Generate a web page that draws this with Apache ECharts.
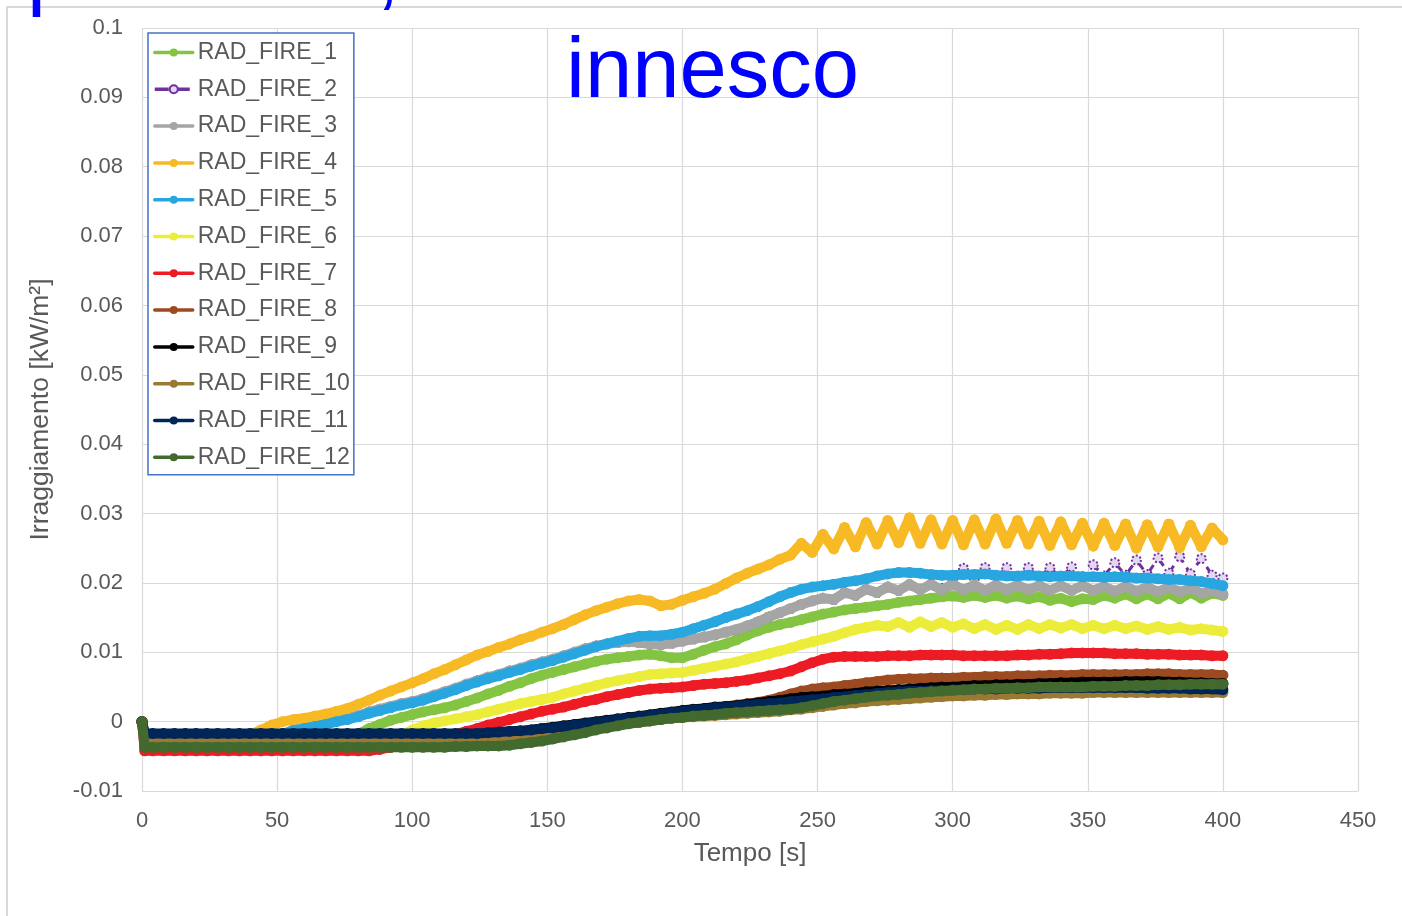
<!DOCTYPE html>
<html>
<head>
<meta charset="utf-8">
<script src="https://cdn.jsdelivr.net/npm/echarts@6/dist/echarts.min.js"></script>
<style>
html,body{margin:0;padding:0;background:#fff;}
#chart{width:1402px;height:916px;}
</style>
</head>
<body>
<div id="chart"></div>
<script>
// Time samples [s]
const time = [0, 1,
  4, 8, 12, 16, 20, 24, 28, 32, 36, 40,
  44, 48, 52, 56, 60, 64, 68, 72, 76, 80,
  84, 88, 92, 96, 100, 104, 108, 112, 116, 120,
  124, 128, 132, 136, 140, 144, 148, 152, 156, 160,
  164, 168, 172, 176, 180, 184, 188, 192, 196, 200,
  204, 208, 212, 216, 220, 224, 228, 232, 236, 240,
  244, 248, 252, 256, 260, 264, 268, 272, 276, 280,
  284, 288, 292, 296, 300, 304, 308, 312, 316, 320,
  324, 328, 332, 336, 340, 344, 348, 352, 356, 360,
  364, 368, 372, 376, 380, 384, 388, 392, 396, 400];

const seriesNames = ['RAD_FIRE_1','RAD_FIRE_2','RAD_FIRE_3','RAD_FIRE_4','RAD_FIRE_5','RAD_FIRE_6',
  'RAD_FIRE_7','RAD_FIRE_8','RAD_FIRE_9','RAD_FIRE_10','RAD_FIRE_11','RAD_FIRE_12'];

const radFire1 = [0, -0.0018,
  -0.0018, -0.0018, -0.0018, -0.0018, -0.0018, -0.0018, -0.0018, -0.0018, -0.0018, -0.0018,
  -0.0018, -0.0018, -0.0018, -0.0018, -0.0018, -0.0018, -0.0018, -0.0018, -0.0018, -0.0018,
  -0.0010, -0.0004, 0.0002, 0.0006, 0.0010, 0.0014, 0.0017, 0.0020, 0.0024, 0.0029,
  0.0034, 0.0040, 0.0045, 0.0051, 0.0056, 0.0062, 0.0067, 0.0071, 0.0075, 0.0079,
  0.0083, 0.0087, 0.0090, 0.0092, 0.0094, 0.0096, 0.0097, 0.0095, 0.0092, 0.0092,
  0.0097, 0.0103, 0.0108, 0.0112, 0.0118, 0.0125, 0.0131, 0.0136, 0.0140, 0.0143,
  0.0147, 0.0151, 0.0155, 0.0158, 0.0161, 0.0163, 0.0165, 0.0167, 0.0169, 0.0172,
  0.0174, 0.0176, 0.0178, 0.0180, 0.0181, 0.0179, 0.0182, 0.0179, 0.0182, 0.0178,
  0.0181, 0.0177, 0.0180, 0.0175, 0.0178, 0.0173, 0.0177, 0.0176, 0.0182, 0.0178,
  0.0184, 0.0177, 0.0184, 0.0177, 0.0185, 0.0177, 0.0186, 0.0178, 0.0185, 0.0182];

const radFire2 = [0, -0.0018,
  -0.0018, -0.0018, -0.0018, -0.0018, -0.0018, -0.0018, -0.0018, -0.0018, -0.0018, -0.0018,
  -0.0018, -0.0018, -0.0018, -0.0012, -0.0008, -0.0005, -0.0002, 0.0002, 0.0005, 0.0009,
  0.0014, 0.0018, 0.0022, 0.0026, 0.0029, 0.0033, 0.0038, 0.0043, 0.0048, 0.0054,
  0.0059, 0.0064, 0.0068, 0.0073, 0.0077, 0.0082, 0.0086, 0.0090, 0.0095, 0.0100,
  0.0105, 0.0109, 0.0112, 0.0114, 0.0115, 0.0114, 0.0112, 0.0111, 0.0113, 0.0116,
  0.0119, 0.0122, 0.0125, 0.0129, 0.0133, 0.0138, 0.0144, 0.0151, 0.0157, 0.0163,
  0.0169, 0.0174, 0.0178, 0.0176, 0.0186, 0.0182, 0.0191, 0.0186, 0.0194, 0.0189,
  0.0196, 0.0191, 0.0197, 0.0192, 0.0206, 0.0221, 0.0206, 0.0222, 0.0207, 0.0222,
  0.0207, 0.0222, 0.0208, 0.0222, 0.0208, 0.0223, 0.0209, 0.0226, 0.0210, 0.0229,
  0.0211, 0.0233, 0.0212, 0.0236, 0.0214, 0.0238, 0.0213, 0.0235, 0.0211, 0.0207];

const radFire3 = [0, -0.0018,
  -0.0018, -0.0018, -0.0018, -0.0018, -0.0018, -0.0018, -0.0018, -0.0018, -0.0018, -0.0018,
  -0.0018, -0.0018, -0.0018, -0.0012, -0.0008, -0.0005, -0.0002, 0.0002, 0.0005, 0.0009,
  0.0014, 0.0018, 0.0022, 0.0026, 0.0029, 0.0033, 0.0038, 0.0043, 0.0048, 0.0054,
  0.0059, 0.0064, 0.0068, 0.0073, 0.0077, 0.0082, 0.0086, 0.0090, 0.0095, 0.0100,
  0.0105, 0.0109, 0.0112, 0.0114, 0.0115, 0.0114, 0.0112, 0.0111, 0.0113, 0.0116,
  0.0119, 0.0122, 0.0125, 0.0129, 0.0133, 0.0138, 0.0144, 0.0151, 0.0157, 0.0163,
  0.0169, 0.0174, 0.0178, 0.0176, 0.0186, 0.0182, 0.0191, 0.0186, 0.0194, 0.0189,
  0.0198, 0.0190, 0.0198, 0.0190, 0.0198, 0.0190, 0.0197, 0.0189, 0.0197, 0.0190,
  0.0197, 0.0190, 0.0196, 0.0189, 0.0196, 0.0189, 0.0196, 0.0189, 0.0195, 0.0188,
  0.0195, 0.0188, 0.0194, 0.0187, 0.0194, 0.0187, 0.0192, 0.0185, 0.0189, 0.0184];

const radFire4 = [0, -0.0019,
  -0.0019, -0.0019, -0.0019, -0.0019, -0.0019, -0.0019, -0.0019, -0.0019, -0.0019, -0.0019,
  -0.0012, -0.0005, 0.0000, 0.0003, 0.0005, 0.0008, 0.0011, 0.0015, 0.0019, 0.0025,
  0.0031, 0.0038, 0.0044, 0.0050, 0.0056, 0.0062, 0.0069, 0.0075, 0.0082, 0.0089,
  0.0096, 0.0101, 0.0107, 0.0112, 0.0118, 0.0123, 0.0129, 0.0134, 0.0140, 0.0147,
  0.0154, 0.0160, 0.0165, 0.0170, 0.0174, 0.0176, 0.0174, 0.0167, 0.0169, 0.0175,
  0.0180, 0.0185, 0.0191, 0.0199, 0.0207, 0.0214, 0.0220, 0.0226, 0.0234, 0.0240,
  0.0257, 0.0244, 0.0270, 0.0249, 0.0280, 0.0252, 0.0287, 0.0256, 0.0290, 0.0258,
  0.0294, 0.0257, 0.0291, 0.0256, 0.0290, 0.0255, 0.0291, 0.0256, 0.0292, 0.0257,
  0.0290, 0.0256, 0.0289, 0.0254, 0.0288, 0.0255, 0.0286, 0.0253, 0.0286, 0.0254,
  0.0285, 0.0250, 0.0284, 0.0252, 0.0285, 0.0251, 0.0283, 0.0252, 0.0279, 0.0262];

const radFire5 = [0, -0.0018,
  -0.0018, -0.0018, -0.0018, -0.0018, -0.0018, -0.0018, -0.0018, -0.0018, -0.0018, -0.0018,
  -0.0018, -0.0018, -0.0018, -0.0013, -0.0010, -0.0007, -0.0004, 0.0000, 0.0003, 0.0007,
  0.0012, 0.0016, 0.0020, 0.0024, 0.0027, 0.0031, 0.0036, 0.0041, 0.0046, 0.0052,
  0.0057, 0.0062, 0.0066, 0.0071, 0.0075, 0.0080, 0.0084, 0.0088, 0.0093, 0.0098,
  0.0103, 0.0108, 0.0112, 0.0116, 0.0120, 0.0123, 0.0124, 0.0124, 0.0126, 0.0129,
  0.0134, 0.0139, 0.0144, 0.0150, 0.0155, 0.0160, 0.0166, 0.0173, 0.0180, 0.0186,
  0.0191, 0.0194, 0.0196, 0.0198, 0.0201, 0.0203, 0.0206, 0.0210, 0.0213, 0.0215,
  0.0215, 0.0214, 0.0212, 0.0211, 0.0211, 0.0212, 0.0212, 0.0213, 0.0211, 0.0210,
  0.0210, 0.0211, 0.0210, 0.0209, 0.0210, 0.0210, 0.0209, 0.0209, 0.0208, 0.0209,
  0.0208, 0.0207, 0.0207, 0.0206, 0.0205, 0.0205, 0.0203, 0.0202, 0.0199, 0.0196];

const radFire6 = [0, -0.0020,
  -0.0020, -0.0020, -0.0020, -0.0020, -0.0020, -0.0020, -0.0020, -0.0020, -0.0020, -0.0020,
  -0.0020, -0.0020, -0.0020, -0.0020, -0.0020, -0.0020, -0.0020, -0.0020, -0.0020, -0.0020,
  -0.0020, -0.0020, -0.0020, -0.0020, -0.0012, -0.0006, -0.0002, 0.0001, 0.0004, 0.0007,
  0.0010, 0.0014, 0.0018, 0.0022, 0.0026, 0.0029, 0.0032, 0.0035, 0.0040, 0.0044,
  0.0048, 0.0052, 0.0056, 0.0059, 0.0062, 0.0065, 0.0068, 0.0069, 0.0070, 0.0071,
  0.0074, 0.0077, 0.0080, 0.0083, 0.0086, 0.0090, 0.0094, 0.0098, 0.0102, 0.0106,
  0.0111, 0.0115, 0.0119, 0.0123, 0.0128, 0.0133, 0.0136, 0.0139, 0.0137, 0.0143,
  0.0136, 0.0144, 0.0137, 0.0143, 0.0136, 0.0141, 0.0134, 0.0140, 0.0133, 0.0139,
  0.0133, 0.0140, 0.0134, 0.0140, 0.0135, 0.0140, 0.0134, 0.0139, 0.0134, 0.0139,
  0.0134, 0.0138, 0.0133, 0.0137, 0.0133, 0.0136, 0.0132, 0.0134, 0.0132, 0.0130];

const radFire7 = [0, -0.0042,
  -0.0042, -0.0042, -0.0042, -0.0042, -0.0042, -0.0042, -0.0042, -0.0042, -0.0042, -0.0042,
  -0.0042, -0.0042, -0.0042, -0.0042, -0.0042, -0.0042, -0.0042, -0.0042, -0.0042, -0.0042,
  -0.0042, -0.0040, -0.0037, -0.0034, -0.0031, -0.0028, -0.0025, -0.0022, -0.0018, -0.0014,
  -0.0010, -0.0005, -0.0001, 0.0003, 0.0007, 0.0011, 0.0015, 0.0018, 0.0021, 0.0025,
  0.0029, 0.0032, 0.0036, 0.0039, 0.0042, 0.0045, 0.0047, 0.0048, 0.0049, 0.0050,
  0.0052, 0.0054, 0.0055, 0.0056, 0.0058, 0.0060, 0.0063, 0.0066, 0.0069, 0.0073,
  0.0079, 0.0085, 0.0090, 0.0093, 0.0094, 0.0094, 0.0094, 0.0094, 0.0095, 0.0095,
  0.0095, 0.0096, 0.0096, 0.0096, 0.0096, 0.0095, 0.0095, 0.0095, 0.0095, 0.0095,
  0.0096, 0.0096, 0.0097, 0.0097, 0.0098, 0.0099, 0.0099, 0.0099, 0.0099, 0.0098,
  0.0098, 0.0098, 0.0097, 0.0097, 0.0097, 0.0096, 0.0096, 0.0096, 0.0095, 0.0095];

const radFire8 = [0, -0.0026,
  -0.0026, -0.0026, -0.0026, -0.0026, -0.0026, -0.0026, -0.0026, -0.0026, -0.0026, -0.0026,
  -0.0026, -0.0026, -0.0026, -0.0026, -0.0026, -0.0026, -0.0026, -0.0026, -0.0026, -0.0026,
  -0.0026, -0.0026, -0.0026, -0.0026, -0.0026, -0.0026, -0.0026, -0.0026, -0.0026, -0.0026,
  -0.0026, -0.0025, -0.0024, -0.0022, -0.0020, -0.0018, -0.0016, -0.0013, -0.0010, -0.0008,
  -0.0005, -0.0003, 0.0000, 0.0002, 0.0004, 0.0006, 0.0008, 0.0010, 0.0012, 0.0014,
  0.0016, 0.0018, 0.0020, 0.0022, 0.0024, 0.0026, 0.0028, 0.0031, 0.0035, 0.0040,
  0.0044, 0.0047, 0.0049, 0.0050, 0.0052, 0.0054, 0.0056, 0.0058, 0.0060, 0.0061,
  0.0062, 0.0062, 0.0063, 0.0063, 0.0063, 0.0064, 0.0064, 0.0065, 0.0065, 0.0065,
  0.0066, 0.0066, 0.0066, 0.0067, 0.0067, 0.0067, 0.0068, 0.0068, 0.0068, 0.0068,
  0.0068, 0.0068, 0.0069, 0.0069, 0.0069, 0.0068, 0.0068, 0.0068, 0.0068, 0.0067];

const radFire9 = [0, -0.0021,
  -0.0021, -0.0021, -0.0021, -0.0021, -0.0021, -0.0021, -0.0021, -0.0021, -0.0021, -0.0021,
  -0.0021, -0.0021, -0.0021, -0.0021, -0.0021, -0.0021, -0.0021, -0.0021, -0.0021, -0.0021,
  -0.0021, -0.0021, -0.0021, -0.0021, -0.0021, -0.0021, -0.0021, -0.0021, -0.0021, -0.0021,
  -0.0021, -0.0020, -0.0018, -0.0016, -0.0014, -0.0012, -0.0010, -0.0008, -0.0006, -0.0004,
  -0.0002, 0.0000, 0.0002, 0.0004, 0.0006, 0.0008, 0.0010, 0.0012, 0.0014, 0.0016,
  0.0018, 0.0019, 0.0021, 0.0022, 0.0023, 0.0025, 0.0027, 0.0029, 0.0031, 0.0033,
  0.0035, 0.0036, 0.0037, 0.0039, 0.0040, 0.0041, 0.0043, 0.0044, 0.0045, 0.0046,
  0.0047, 0.0048, 0.0049, 0.0050, 0.0050, 0.0051, 0.0052, 0.0052, 0.0053, 0.0053,
  0.0054, 0.0054, 0.0055, 0.0055, 0.0056, 0.0056, 0.0057, 0.0057, 0.0057, 0.0057,
  0.0058, 0.0058, 0.0058, 0.0058, 0.0057, 0.0057, 0.0056, 0.0056, 0.0055, 0.0055];

const radFire10 = [0, -0.0028,
  -0.0028, -0.0028, -0.0028, -0.0028, -0.0028, -0.0028, -0.0028, -0.0028, -0.0028, -0.0028,
  -0.0028, -0.0028, -0.0028, -0.0028, -0.0028, -0.0028, -0.0028, -0.0028, -0.0028, -0.0028,
  -0.0028, -0.0028, -0.0028, -0.0028, -0.0028, -0.0028, -0.0028, -0.0028, -0.0028, -0.0028,
  -0.0028, -0.0027, -0.0026, -0.0025, -0.0024, -0.0022, -0.0020, -0.0018, -0.0015, -0.0013,
  -0.0011, -0.0009, -0.0007, -0.0005, -0.0003, -0.0001, 0.0001, 0.0003, 0.0005, 0.0006,
  0.0007, 0.0008, 0.0009, 0.0010, 0.0011, 0.0012, 0.0013, 0.0014, 0.0015, 0.0017,
  0.0018, 0.0020, 0.0022, 0.0024, 0.0026, 0.0027, 0.0029, 0.0030, 0.0031, 0.0032,
  0.0033, 0.0034, 0.0035, 0.0036, 0.0037, 0.0037, 0.0038, 0.0038, 0.0039, 0.0039,
  0.0040, 0.0040, 0.0040, 0.0041, 0.0041, 0.0041, 0.0041, 0.0042, 0.0042, 0.0042,
  0.0042, 0.0042, 0.0042, 0.0042, 0.0042, 0.0042, 0.0042, 0.0042, 0.0042, 0.0042];

const radFire11 = [0, -0.0017,
  -0.0017, -0.0017, -0.0017, -0.0017, -0.0017, -0.0017, -0.0017, -0.0017, -0.0017, -0.0017,
  -0.0017, -0.0017, -0.0017, -0.0017, -0.0017, -0.0017, -0.0017, -0.0017, -0.0017, -0.0017,
  -0.0017, -0.0017, -0.0017, -0.0017, -0.0017, -0.0017, -0.0017, -0.0017, -0.0017, -0.0017,
  -0.0017, -0.0016, -0.0015, -0.0014, -0.0013, -0.0012, -0.0010, -0.0009, -0.0007, -0.0005,
  -0.0003, -0.0001, 0.0001, 0.0003, 0.0005, 0.0007, 0.0009, 0.0011, 0.0013, 0.0015,
  0.0017, 0.0018, 0.0020, 0.0021, 0.0022, 0.0024, 0.0025, 0.0026, 0.0027, 0.0029,
  0.0030, 0.0032, 0.0033, 0.0035, 0.0036, 0.0038, 0.0039, 0.0041, 0.0042, 0.0043,
  0.0044, 0.0044, 0.0045, 0.0045, 0.0046, 0.0046, 0.0047, 0.0047, 0.0047, 0.0048,
  0.0048, 0.0048, 0.0048, 0.0049, 0.0049, 0.0049, 0.0049, 0.0049, 0.0049, 0.0049,
  0.0049, 0.0049, 0.0048, 0.0048, 0.0048, 0.0048, 0.0047, 0.0047, 0.0047, 0.0046];

const radFire12 = [0, -0.0037,
  -0.0037, -0.0037, -0.0037, -0.0037, -0.0037, -0.0037, -0.0037, -0.0037, -0.0037, -0.0037,
  -0.0037, -0.0037, -0.0037, -0.0037, -0.0037, -0.0037, -0.0037, -0.0037, -0.0037, -0.0037,
  -0.0037, -0.0037, -0.0037, -0.0037, -0.0037, -0.0037, -0.0037, -0.0037, -0.0036, -0.0036,
  -0.0035, -0.0035, -0.0035, -0.0034, -0.0032, -0.0030, -0.0028, -0.0025, -0.0022, -0.0019,
  -0.0016, -0.0012, -0.0009, -0.0006, -0.0003, -0.0001, 0.0001, 0.0003, 0.0005, 0.0006,
  0.0008, 0.0009, 0.0010, 0.0012, 0.0013, 0.0014, 0.0015, 0.0016, 0.0017, 0.0018,
  0.0020, 0.0023, 0.0026, 0.0029, 0.0031, 0.0033, 0.0035, 0.0037, 0.0038, 0.0039,
  0.0041, 0.0042, 0.0043, 0.0044, 0.0045, 0.0046, 0.0047, 0.0047, 0.0048, 0.0048,
  0.0049, 0.0049, 0.0050, 0.0050, 0.0050, 0.0050, 0.0050, 0.0051, 0.0051, 0.0051,
  0.0052, 0.0052, 0.0052, 0.0053, 0.0053, 0.0053, 0.0054, 0.0054, 0.0054, 0.0054];

const allValues = [radFire1, radFire2, radFire3, radFire4, radFire5, radFire6,
  radFire7, radFire8, radFire9, radFire10, radFire11, radFire12];

const colors = ['#84c443', '#7030a0', '#a5a5a5', '#f7b924', '#28a6df', '#ecec3a',
  '#ed1c24', '#9c4a20', '#000000', '#9a7932', '#002557', '#436a2e'];

allValues.forEach((a, i) => { if (a.length !== time.length) console.error('length mismatch', seriesNames[i], a.length); });

const FONT = '"Liberation Sans", Arial, sans-serif';

const series = allValues.map((vals, i) => {
  const c = colors[i];
  const isPurple = i === 1;
  return {
    name: seriesNames[i],
    type: 'line',
    z: 2 + i,
    data: time.map((t, k) => [t, vals[k]]),
    symbol: 'circle',
    symbolSize: isPurple ? 9 : 11,
    showSymbol: true,
    lineStyle: isPurple
      ? { color: c, width: 3, type: 'dashed' }
      : { color: c, width: 10, cap: 'round', join: 'round' },
    itemStyle: isPurple
      ? { color: '#e4d8ef', borderColor: c, borderWidth: 2, borderType: 'dotted' }
      : { color: c },
    emphasis: { disabled: true },
    silent: true
  };
});

const chart = echarts.init(document.getElementById('chart'), null, { renderer: 'canvas' });
chart.setOption({
  animation: false,
  backgroundColor: '#ffffff',
  textStyle: { fontFamily: FONT },
  grid: { left: 142, right: 44, top: 28, bottom: 125, containLabel: false },
  xAxis: {
    type: 'value', min: 0, max: 450, interval: 50,
    name: 'Tempo [s]', nameLocation: 'middle', nameGap: 50,
    nameTextStyle: { fontSize: 26, color: '#595959', fontFamily: FONT },
    axisLine: { show: false }, axisTick: { show: false },
    axisLabel: { fontSize: 22, color: '#595959', margin: 19, fontFamily: FONT },
    splitLine: { show: true, lineStyle: { color: '#d9d9d9', width: 1.2 } }
  },
  yAxis: {
    type: 'value', min: -0.01, max: 0.1, interval: 0.01,
    name: 'Irraggiamento [kW/m²]', nameLocation: 'middle', nameRotate: 90, nameGap: 88,
    nameTextStyle: { fontSize: 26.5, color: '#595959', fontFamily: FONT },
    axisLine: { show: false }, axisTick: { show: false },
    axisLabel: { fontSize: 22, color: '#595959', margin: 19, fontFamily: FONT,
      formatter: v => String(parseFloat(v.toFixed(3))) },
    splitLine: { show: true, lineStyle: { color: '#d9d9d9', width: 1.2 } }
  },
  legend: {
    orient: 'vertical', left: 148, top: 33,
    padding: [8, 4, 6, 5],
    itemWidth: 38, itemHeight: 10, itemGap: 13.8,
    borderColor: '#4472c4', borderWidth: 1.5, backgroundColor: '#ffffff',
    textStyle: { fontSize: 23, color: '#595959', lineHeight: 23, fontFamily: FONT },
    lineStyle: { width: 3.5 },
    data: seriesNames,
    selectedMode: false,
    z: 50
  },
  graphic: [
    { type: 'rect', z: -10, silent: true,
      shape: { x: 7, y: 7, width: 1500, height: 1000 },
      style: { fill: 'none', stroke: '#d9d9d9', lineWidth: 2 } },
    { type: 'text', z: 100, silent: true, x: 566, y: 74,
      style: { text: 'innesco', font: '85px ' + FONT, fill: '#0000ff', verticalAlign: 'middle', align: 'left' } },
    { type: 'text', z: 100, silent: true, x: 27, y: -24,
      style: { text: 'p', font: '85px ' + FONT, fill: '#0000ff', verticalAlign: 'middle', align: 'left' } },
    { type: 'text', z: 100, silent: true, x: 376, y: -24,
      style: { text: ',', font: '85px ' + FONT, fill: '#0000ff', verticalAlign: 'middle', align: 'left' } }
  ],
  series: series
});
</script>
</body>
</html>
